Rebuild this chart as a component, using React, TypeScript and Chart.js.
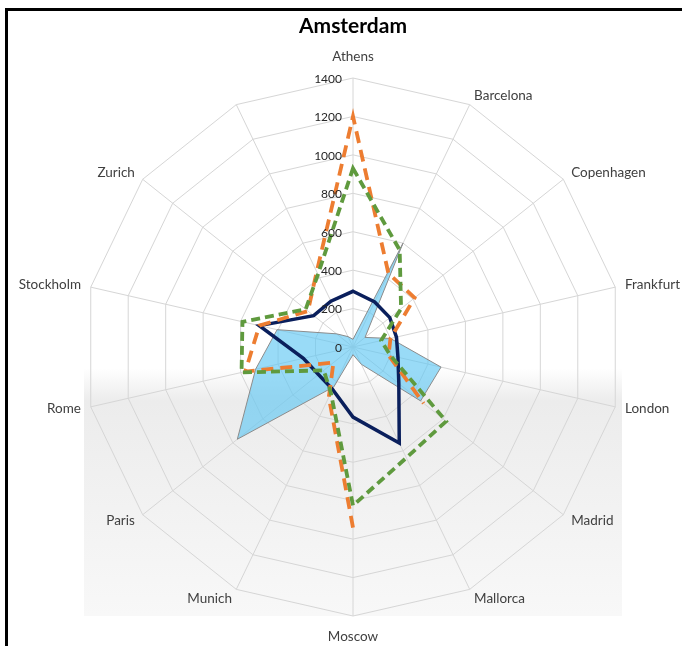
import { useEffect, useRef } from 'react';
import { Chart, registerables } from 'chart.js';

Chart.register(...registerables);

const chartTitle = 'Amsterdam';
const categories = ['Athens', 'Barcelona', 'Copenhagen', 'Frankfurt', 'London', 'Madrid', 'Mallorca', 'Moscow', 'Munich', 'Paris', 'Rome', 'Stockholm', 'Zurich', ''];
const seriesArea = [40, 600, 80, 200, 470, 450, 100, 40, 230, 770, 520, 405, 110, 60];
const seriesNavy = [290, 260, 245, 232, 240, 305, 555, 365, 245, 230, 265, 500, 262, 265];
const seriesOrange: (number | null)[] = [1200, 425, 410, 200, 190, 470, null, 940, 290, 130, 575, 500, 300, 435];
const seriesGreen = [930, 560, 320, 150, 200, 620, 640, 825, 265, 195, 595, 590, 315, 420];
const axisMin = 0;
const axisMax = 1400;
const axisStep = 200;

const FONT = 'Lato, "Open Sans", "DejaVu Sans", sans-serif';

const overlayPlugin = {
  id: 'overlay',
  beforeDraw(chart: any) {
    const s = chart.scales.r;
    const ctx = chart.ctx as CanvasRenderingContext2D;
    const R = s.drawingArea;
    const x0 = s.xCenter - R;
    const y0 = s.yCenter - R;
    const g = ctx.createLinearGradient(0, y0, 0, y0 + 2 * R);
    g.addColorStop(0, '#ffffff');
    g.addColorStop(0.54, '#ffffff');
    g.addColorStop(0.6, '#ececec');
    g.addColorStop(1, '#f8f8f8');
    ctx.save();
    ctx.fillStyle = g;
    ctx.fillRect(x0, y0, 2 * R, 2 * R);
    ctx.restore();
  },
  afterDraw(chart: any) {
    const s = chart.scales.r;
    const ctx = chart.ctx as CanvasRenderingContext2D;
    const R = s.drawingArea;
    ctx.save();
    // tick labels
    ctx.font = `12px ${FONT}`;
    ctx.fillStyle = '#262626';
    ctx.textAlign = 'right';
    ctx.textBaseline = 'middle';
    s.ticks.forEach((t: any) => {
      const d = s.getDistanceFromCenterForValue(t.value);
      ctx.fillText(String(t.value), s.xCenter - 11, s.yCenter - d + 1);
    });
    // point labels
    ctx.font = `13.5px ${FONT}`;
    ctx.fillStyle = '#404040';
    categories.forEach((label, i) => {
      if (!label) return;
      const probe = s.getPointPosition(i, R);
      const c = Math.cos(probe.angle);
      const centered = Math.abs(c) < 0.01;
      const pos = s.getPointPosition(i, R + (centered ? 21 : 10));
      ctx.textAlign = centered ? 'center' : c > 0 ? 'left' : 'right';
      ctx.fillText(label, pos.x, pos.y);
    });
    // title
    ctx.font = `bold 21px ${FONT}`;
    ctx.fillStyle = '#000000';
    ctx.textAlign = 'center';
    ctx.fillText(chartTitle, s.xCenter, 26);
    ctx.restore();
  },
};

export default function App() {
  const ref = useRef<HTMLCanvasElement>(null);
  useEffect(() => {
    const canvas = ref.current;
    if (!canvas) return;
    const chart = new Chart(canvas, {
      type: 'radar',
      data: {
        labels: categories,
        datasets: [
          {
            label: 'Series 1',
            data: seriesArea,
            backgroundColor: 'rgba(95,198,242,0.64)',
            borderColor: '#8c8c8c',
            borderWidth: 1,
            fill: true,
            pointRadius: 0,
            order: 4,
          },
          {
            label: 'Series 2',
            data: seriesNavy,
            borderColor: '#0a1f5c',
            borderWidth: 3.5,
            fill: false,
            pointRadius: 0,
            borderJoinStyle: 'miter',
            order: 3,
          },
          {
            label: 'Series 3',
            data: seriesOrange,
            borderColor: '#ed7d31',
            borderWidth: 3.8,
            borderDash: [12, 7],
            fill: false,
            pointRadius: 0,
            spanGaps: false,
            order: 2,
          },
          {
            label: 'Series 4',
            data: seriesGreen,
            borderColor: '#5f9a3e',
            borderWidth: 3.8,
            borderDash: [9, 5],
            fill: false,
            pointRadius: 0,
            order: 1,
          },
        ] as any,
      },
      options: {
        responsive: false,
        animation: false,
        layout: { padding: { left: 84, top: 78, right: 98, bottom: 30 } },
        plugins: { legend: { display: false }, tooltip: { enabled: false }, title: { display: false } },
        elements: { line: { tension: 0 } },
        scales: {
          r: {
            min: axisMin,
            max: axisMax,
            ticks: { stepSize: axisStep, display: false },
            pointLabels: { display: false },
            grid: { color: '#d6d6d6', lineWidth: 1 },
            angleLines: { color: '#d6d6d6', lineWidth: 1 },
          },
        },
      } as any,
      plugins: [overlayPlugin],
    });
    return () => chart.destroy();
  }, []);

  return (
    <div style={{ position: 'fixed', left: 0, top: 0, width: 682, height: 646, overflow: 'hidden', background: '#ffffff' }}>
      <div
        style={{
          position: 'absolute',
          left: 5,
          top: 8,
          width: 760,
          height: 720,
          borderLeft: '3px solid #000',
          borderTop: '3px solid #000',
        }}
      />
      <canvas ref={ref} width={720} height={646} style={{ position: 'absolute', left: 0, top: 0, width: 720, height: 646 }} />
    </div>
  );
}
